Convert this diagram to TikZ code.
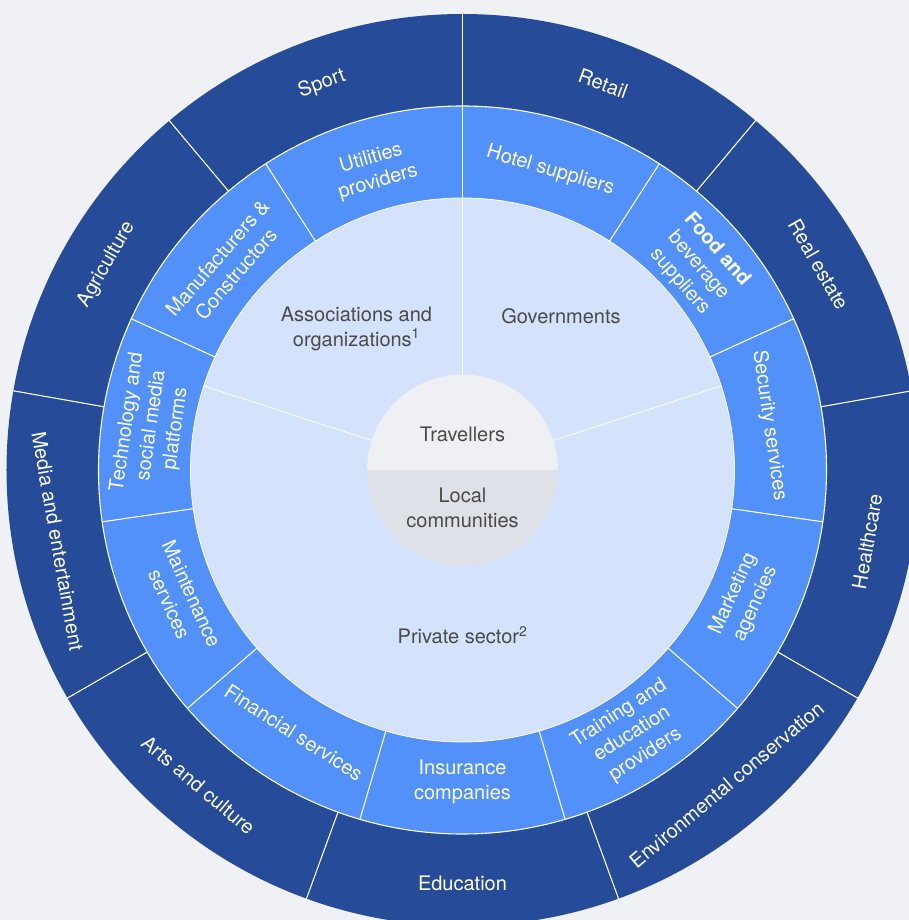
\documentclass[tikz,border=0pt]{standalone}
\usepackage{fontspec}
\setmainfont{TeX Gyre Heros}
\definecolor{pagebg}{HTML}{EFF1F5}
\definecolor{outerring}{HTML}{264B98}
\definecolor{midring}{HTML}{5291F9}
\definecolor{innerring}{HTML}{D4E2FC}
\definecolor{travfill}{HTML}{EEF0F4}
\definecolor{localfill}{HTML}{DEE1E7}
\definecolor{labelgray}{HTML}{4A4A4A}
\begin{document}
\begin{tikzpicture}[x=1pt,y=1pt,
  ringlabel/.style={text=white,font=\fontsize{20}{24.5}\selectfont,align=center,inner sep=0pt},
  corelabel/.style={text=labelgray,font=\fontsize{20}{24.5}\selectfont,align=center,inner sep=0pt},
  divider/.style={draw=white,line width=1.1pt},
  softdivider/.style={draw=white!80!innerring,line width=1pt},
]
% canvas
\useasboundingbox (-462.5,-450) rectangle (446.5,470);
\clip (-462.5,-450) rectangle (446.5,470);
\fill[pagebg] (-462.5,-450) rectangle (446.5,470);

% three concentric rings
\fill[outerring] (0,0) circle[radius=456];
\fill[midring] (0,0) circle[radius=364];
\fill[innerring] (0,0) circle[radius=272];
\draw[divider] (0,0) circle[radius=364];
\draw[divider,line width=0.8pt] (0,0) circle[radius=272];

% sector dividers: outer ring (9 sectors), middle ring (11 sectors), inner ring (3 sectors)
\foreach \a in {90,130,...,410} \draw[divider] (\a:364) -- (\a:457);
\foreach \k in {0,...,10} \draw[divider] ({90+\k*360/11}:272) -- ({90+\k*360/11}:364);
\foreach \a in {18,90,162} \draw[softdivider] (\a:95) -- (\a:272);

% core disc, split in two halves
\fill[travfill] (0,0) circle[radius=95.5];
\fill[localfill] (-95.5,0) arc[start angle=180,end angle=360,radius=95.5] -- cycle;

% core labels
\node[corelabel] (travellers) at (0,36) {Travellers};
\node[corelabel] (local) at (0,-38) {Local\\communities};

% inner ring labels
\node[corelabel] (assoc) at (-106,141) {Associations and\\organizations\textsuperscript{1}};
\node[corelabel] (govts) at (98.5,154) {Governments};
\node[corelabel] (private) at (0,-165) {Private sector\textsuperscript{2}};

% middle ring labels
\node[ringlabel,rotate=-16.36] (hotel) at (73.64:312) {Hotel suppliers};
\node[ringlabel,rotate=-49.09] (food) at (40.91:312) {{\bfseries Food and}\\beverage\\suppliers};
\node[ringlabel,rotate=-81.82] (security) at (8.18:310) {Security services};
\node[ringlabel,rotate=65.45] (marketing) at (-24.55:310) {Marketing\\agencies};
\node[ringlabel,rotate=32.73] (training) at (-57.27:314) {Training and\\education\\providers};
\node[ringlabel] (insurance) at (-90:312) {Insurance\\companies};
\node[ringlabel,rotate=-32.73] (financial) at (-122.73:312) {Financial services};
\node[ringlabel,rotate=-65.45] (maintenance) at (-155.45:310) {Maintenance\\services};
\node[ringlabel,rotate=81.82] (tech) at (171.82:314) {Technology and\\social media\\platforms};
\node[ringlabel,rotate=49.09] (manuf) at (139.09:312) {Manufacturers \&\\Constructors};
\node[ringlabel,rotate=16.36] (utilities) at (106.36:312) {Utilities\\providers};

% outer ring labels
\node[ringlabel,rotate=20] (sport) at (110:411) {Sport};
\node[ringlabel,rotate=-20] (retail) at (70:411) {Retail};
\node[ringlabel,rotate=-60] (realestate) at (30:411) {Real estate};
\node[ringlabel,rotate=80] (health) at (-10:411) {Healthcare};
\node[ringlabel,rotate=40] (environment) at (-50:411) {Environmental conservation};
\node[ringlabel] (education) at (-90:413) {Education};
\node[ringlabel,rotate=-40] (arts) at (-130:411) {Arts and culture};
\node[ringlabel,rotate=-80] (media) at (-170:411) {Media and entertainment};
\node[ringlabel,rotate=60] (agri) at (150:411) {Agriculture};
\end{tikzpicture}
\end{document}
